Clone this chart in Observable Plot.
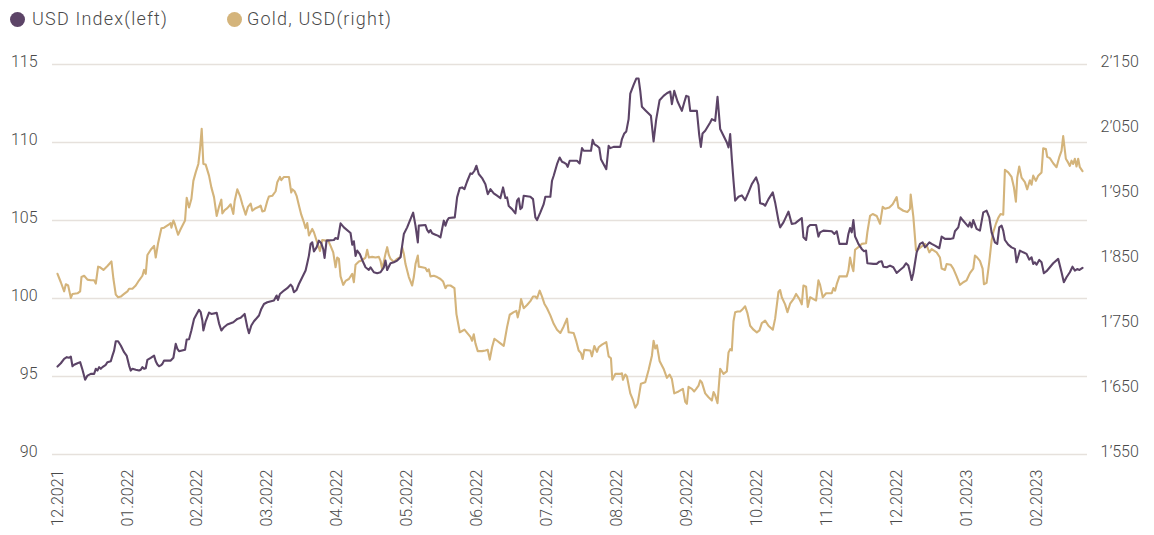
<!DOCTYPE html>
<html>
<head>
<meta charset="utf-8">
<script src="https://cdn.jsdelivr.net/npm/d3@7"></script>
<script src="https://cdn.jsdelivr.net/npm/@observablehq/plot@0.6"></script>
<style>
  body { margin: 0; background: #fff; font-family: Roboto, "Noto Sans", sans-serif; }
  #legend { position: relative; height: 40px; width: 1154px; }
  .dot { position: absolute; top: 12px; width: 15px; height: 15px; border-radius: 50%; }
  .lbl { position: absolute; top: 8px; font-size: 18px; line-height: 22px; color: #4a4a4a; font-weight: 300; letter-spacing: 1.2px; }
  svg text { font-weight: 300; }
</style>
</head>
<body>
<div id="legend">
  <span class="dot" style="left:10px;background:#5c4467"></span>
  <span class="lbl" style="left:32px">USD Index(left)</span>
  <span class="dot" style="left:227px;background:#d4b47b"></span>
  <span class="lbl" style="left:247px">Gold, USD(right)</span>
</div>
<div id="chart"></div>
<script>
// Month labels (one every 21 trading days)
const monthLabels = ["12.2021","01.2022","02.2022","03.2022","04.2022","05.2022","06.2022","07.2022","08.2022","09.2022","10.2022","11.2022","12.2022","01.2023","02.2023"];

// Tick values
const leftTicks = [90, 95, 100, 105, 110, 115];
const rightTicks = [1550, 1650, 1750, 1850, 1950, 2050, 2150];

// USD Index (left axis): trading-day index and value
const usdDay = [0,1,2,2.8,3.5,4,4.5,5,6,6.8,7.5,8.3,9,10,11,11.5,12,12.5,13,13.5,14.5,15,16,16.5,17,17.5,18.2,19,20,20.8,21.5,22,22.5,23.5,24.5,25,25.5,26,26.5,27,28,29,29.5,30,30.5,31,31.5,32,34,34.8,35.5,36,36.5,38.3,38.8,39.5,40.2,41,41.8,42.5,43,43.5,43.8,44.5,45.5,46.2,47.8,48.5,49.2,50,51,52.8,54,55,56.2,57,57.5,58.2,59,60.5,61.2,62,63,65,65.8,66.2,66.8,68,69,70,70.5,71,71.8,72.5,73.5,74.5,75,75.5,76,76.5,77,77.8,78.5,79.2,79.8,80.2,80.8,83,83.5,84.2,85,86,88,88.5,89,89.5,90,90.8,91.5,92.5,93.5,94,95,96,97,98,98.5,99,100,101,102,103,104,105,106,106.8,107.5,108.2,
  108.5,110.5,111,111.5,112,112.5,113.5,114.2,115,115.5,116,116.5,117,117.5,119.3,120,120.8,121.5,122.2,123,124,124.5,125.2,125.8,126.5,127.5,128.5,129.2,130,131,132,133,133.8,134.5,135,135.5,136.5,137.5,138,138.5,139,139.5,140,142,142.8,143.5,144,145,146,146.5,148,148.5,149,150,150.8,151.5,152,152.8,153.2,153.8,156,156.8,157.5,158,160.2,160.7,161.2,162,162.7,163.2,164,164.8,165.5,166,167,169,169.5,170.2,170.8,171.5,172,173,173.8,174.5,175,175.5,176.5,178.2,179,179.8,180.8,182,183,184,184.5,185.2,186.2,187.5,188.2,188.8,189.5,190,192,192.7,193.2,193.7,194.5,196,196.5,197.5,198.2,199,200,201,201.5,202,202.5,203,203.5,204.5,205.5,206.5,207.5,208.5,209,209.8,210.5,211,212,212.5,213.5,214.8,215.5,216.5,217,
  218,219.5,220.5,221.5,222.5,223.5,224,224.8,225.3,226,227.8,228.5,229,230,232.5,233.3,234,234.8,237,237.5,238,238.5,239,239.5,240,240.5,241.5,242.2,242.8,243.2,245,246,246.8,247.5,248,249,250,251,252,253,254,254.8,255.5,256,256.5,257,258,259,259.8,260.5,261,261.8,262.5,263.5,264.8,265.5,266.5,268,269,269.5,270.5,271.2,271.8,272.8,273.5,274,274.5,275,276,277,278,279,279.8,280.5,281.5,282.2,282.8,283.5,284,284.5,285.5,286.5,287.5,288,289,290,291,291.8,292.5,293,293.5,294,294.8,295.5,296.2,297,298,299,300.5,301.5,302.2,303,304,304.8,305.5,306.2,306.9,307.8];
const usdValue = [95.64,95.85,96.13,96.24,96.20,96.28,95.66,95.75,95.85,95.92,95.43,94.79,95.06,95.17,95.17,95.49,95.38,95.60,95.49,95.60,95.75,95.92,95.98,96.34,96.66,97.26,97.26,96.99,96.56,96.32,95.70,95.38,95.49,95.43,95.38,95.43,95.60,95.49,95.53,96.07,96.20,96.34,95.98,95.77,95.66,95.71,95.81,96.02,96.02,96.20,97.09,96.77,96.62,96.71,97.37,97.39,97.95,98.69,99.01,99.27,99.12,98.59,97.95,98.54,99.10,99.01,99.08,98.41,97.95,98.16,98.33,98.48,98.69,98.76,99.01,98.16,97.77,98.27,98.54,98.91,99.33,99.65,99.76,99.87,100.19,99.91,100.29,100.51,100.66,100.89,100.76,100.40,100.55,100.93,101.36,101.79,102.26,102.75,103.49,103.60,103.02,103.28,103.71,103.54,103.17,102.60,103.71,103.75,103.88,103.82,104.82,104.56,104.20,103.45,103.67,102.73,103.07,102.85,102.47,102.00,101.83,102.00,101.68,101.62,101.68,102.00,102.43,101.83,102.26,102.32,102.43,102.64,104.13,104.56,105.09,105.50,104.67,103.60,
  104.67,104.71,104.39,104.24,104.39,104.18,104.09,104.03,103.92,104.45,104.99,104.67,104.99,105.16,105.20,106.48,107.08,107.12,107.01,107.50,108.02,107.98,108.19,108.51,107.98,107.72,107.33,106.69,107.01,106.74,106.59,106.44,107.12,106.44,106.48,105.93,105.73,105.46,106.27,106.42,105.73,105.84,106.59,106.52,106.37,105.20,105.03,105.52,106.05,106.52,106.52,107.55,107.87,108.61,109.04,108.76,108.72,108.61,108.44,108.83,108.83,108.66,109.64,109.47,109.47,110.17,109.90,109.79,109.64,108.93,108.61,108.29,109.79,109.64,109.72,109.72,110.22,110.58,110.71,111.50,113.14,113.69,114.10,114.10,113.31,112.29,112.07,111.71,110.07,111.50,112.71,112.99,113.16,113.27,112.46,113.31,112.63,112.03,112.56,112.99,112.93,112.03,112.03,110.49,109.72,110.58,110.75,111.28,111.50,111.39,112.93,110.86,110.43,110.00,109.68,110.54,108.93,107.55,106.27,106.52,106.61,106.31,106.80,107.33,107.50,107.76,107.29,106.10,106.05,105.95,106.37,106.80,106.16,104.99,104.56,
  104.88,105.57,104.78,104.82,104.99,105.16,103.92,103.75,104.56,104.71,104.71,103.97,104.24,104.35,104.31,104.14,104.31,103.50,103.50,104.14,104.52,104.24,105.03,103.97,103.75,103.50,103.18,103.03,103.07,102.26,102.22,102.22,102.36,102.39,102.04,102.00,102.11,102.00,101.64,101.83,102.00,102.26,102.11,101.68,101.19,101.62,102.96,103.50,103.60,103.28,103.39,103.60,103.50,103.39,103.22,103.97,103.82,103.82,103.86,104.31,104.56,105.20,105.03,104.78,104.61,104.88,104.56,105.03,104.46,104.35,105.52,105.63,105.20,104.24,103.60,103.50,104.56,104.67,104.35,103.75,103.45,103.28,103.18,102.32,103.07,102.96,102.86,102.49,102.64,102.22,102.32,102.17,102.47,102.32,101.62,101.75,102.00,102.26,102.54,101.68,101.04,101.36,101.68,102.04,101.79,101.89,101.83,101.96];

// Gold in USD (right axis): trading-day index and value
const goldDay = [0,1,2,2.5,3.2,4,4.5,6,6.8,7.2,8,9,10,11,11.5,12.2,12.8,13.8,15,16.2,16.8,17.5,18.2,19,20,21,21.5,22.5,23.5,24.5,25.5,26,26.5,27,28,29,29.5,30.2,31.2,32,33.5,34,34.2,34.8,35.2,36.2,37,38.3,38.8,39.5,40.2,40.8,41.5,42.3,42.8,43.3,43.8,44.5,45.5,46.2,47,47.8,48.5,49.2,49.5,50.2,51,52,52.8,53.2,54,54.8,55.5,56.5,57.2,58,58.5,59.5,60.5,61,61.5,62.2,63,63.5,64.5,65.5,66,66.8,67.2,68,69.5,70.2,70.5,71.2,71.8,72.5,73.2,74,74.5,75,75.5,76.5,77,78,78.8,79.5,80.5,81.2,82,82.8,83.5,84,84.5,85,85.8,86.5,87.5,88.5,89,89.5,90.5,91.5,92.5,93,93.5,94.5,95.5,96.5,97,97.5,98,98.5,99,99.5,100,101,102,103,103.5,104,104.5,105.5,106.5,107,107.5,108.2,
  108.5,109.5,110.5,111,111.5,112,113,114,115,115.8,116.5,117,118,119.2,119.8,120.8,121.5,122.2,123,124,124.5,125,125.5,126.2,127.5,128.5,129.2,129.8,130.5,131.2,132,133,134,135,135.8,137,137.8,138.2,138.8,139.2,140,141,142,142.8,143.5,144,144.8,145.5,146.2,147,148,149,150,151,152,153,153.5,155,155.8,156.5,157.2,157.7,158.2,160,160.5,161.2,162,162.5,163.5,164.8,165.5,166.2,166.6,167.5,169,169.5,169.8,170.5,171,172,172.8,173.5,174.2,175.2,176.5,177.5,178.5,179,179.5,180,180.8,182,183,183.8,184.5,185.2,186.5,187.8,188.5,189,189.5,190.5,191.2,191.8,192.5,193,193.5,194.5,195.5,196.5,197,197.5,198.2,199,200,201,201.5,202,202.5,203,203.5,204.2,205,205.8,206.5,207.2,208,209,210,210.8,211.5,212.5,213.5,214.8,215.5,216.5,217,
  217.5,218.5,219.2,220,221,221.8,222.8,223.5,224,224.8,225.3,226,227,227.8,228.5,229,229.8,230.8,232.5,233,233.5,234,234.8,237,237.5,238,238.5,239,239.5,240.5,241.5,242.8,243.2,244,244.8,246,247,247.8,248.5,249.8,250.8,252,252.5,254,255.2,256,256.2,257,257.8,258.5,259.5,260.5,261.2,261.8,262.5,264,265,265.5,266.5,267,268.2,269,270,271,272,273,274,275,275.5,276.2,277,277.8,278.2,279,279.8,280.5,281,281.8,282.5,283.2,284,284.5,285.5,286.5,287.2,287.8,288.2,288.8,289.5,290.5,291.2,292,292.5,293,293.8,294.5,295.5,296,296.8,297.2,298,299,300,300.8,301.5,302,302.8,303.5,304,304.5,305,305.5,306,306.5,307,307.8];
const goldValue = [1828,1815,1801,1812,1810,1791,1797,1798,1801,1823,1825,1819,1818,1818,1813,1839,1838,1834,1840,1847,1820,1796,1792,1793,1797,1801,1805,1805,1810,1818,1825,1834,1828,1857,1865,1871,1853,1875,1898,1899,1904,1906,1899,1910,1905,1888,1897,1910,1945,1930,1943,1971,1984,1997,2020,2051,1997,1996,1979,1961,1946,1917,1931,1942,1921,1926,1929,1935,1920,1940,1958,1948,1935,1919,1931,1936,1925,1929,1931,1933,1924,1925,1940,1947,1948,1955,1969,1977,1972,1977,1977,1953,1958,1955,1948,1933,1919,1907,1898,1906,1887,1897,1892,1876,1863,1880,1879,1880,1871,1861,1838,1853,1851,1824,1811,1817,1820,1828,1815,1842,1847,1849,1853,1865,1853,1854,1853,1854,1848,1835,1847,1859,1869,1857,1851,1846,1851,1854,1869,1859,1843,1823,1810,1823,1843,1856,
  1839,1838,1837,1832,1835,1824,1825,1823,1820,1816,1806,1810,1810,1806,1766,1738,1740,1742,1737,1731,1725,1735,1721,1709,1709,1710,1711,1696,1715,1728,1725,1721,1717,1746,1765,1769,1771,1761,1774,1789,1775,1780,1786,1793,1793,1790,1802,1793,1782,1775,1764,1751,1742,1737,1747,1759,1738,1737,1724,1710,1706,1697,1711,1710,1701,1717,1708,1715,1719,1723,1701,1698,1665,1674,1674,1675,1665,1673,1670,1644,1634,1622,1628,1659,1661,1680,1702,1725,1713,1718,1694,1682,1668,1673,1666,1644,1647,1651,1631,1628,1654,1651,1647,1651,1656,1664,1661,1644,1638,1633,1646,1641,1629,1682,1674,1678,1707,1712,1710,1755,1769,1770,1770,1774,1778,1767,1748,1742,1738,1741,1752,1756,1748,1742,1759,1800,1803,
  1792,1781,1769,1782,1789,1797,1789,1781,1810,1808,1777,1792,1789,1787,1818,1811,1792,1798,1798,1806,1802,1812,1824,1824,1833,1853,1841,1832,1865,1869,1874,1875,1892,1917,1920,1917,1905,1931,1928,1930,1935,1946,1930,1925,1923,1928,1950,1916,1864,1866,1870,1874,1869,1861,1866,1861,1853,1836,1834,1843,1842,1836,1824,1811,1815,1818,1829,1836,1856,1853,1848,1836,1812,1814,1846,1879,1892,1905,1914,1920,1919,1988,1984,1977,1961,1939,1976,1993,1976,1969,1958,1972,1965,1979,1971,1979,1984,2021,2020,2008,2006,1998,1992,2007,2017,2040,2005,1999,1994,2002,1997,2005,1993,2005,1992,1986];

// Map gold (right axis) onto the left-axis scale: 1550 <-> 90, 2150 <-> 115
const toLeft = g => 90 + (g - 1550) / 24;
const fromLeft = v => Math.round(1550 + (v - 90) * 24);
const fmtGold = d3.formatLocale({decimal: ".", thousands: "\u2019", grouping: [3], currency: ["", ""]}).format(",d");

const usdData = usdDay.map((d, i) => ({day: d, value: usdValue[i]}));
const goldData = goldDay.map((d, i) => ({day: d, value: toLeft(goldValue[i])}));
const xTicks = monthLabels.map((_, i) => i * 21);

const PURPLE = "#5c4467";
const GOLD = "#d4b47b";
const GRID = "#e6e1dc";
const TEXT = "#4a4a4a";

const chart = Plot.plot({
  width: 1154,
  height: 495,
  marginTop: 24,
  marginBottom: 81,
  marginLeft: 52,
  marginRight: 67,
  style: {fontFamily: "Roboto, sans-serif", fontSize: "16px", color: TEXT, background: "#fff"},
  x: {type: "linear", domain: [0, 307.8], insetLeft: 5, insetRight: 5},
  y: {domain: [90, 115]},
  marks: [
    Plot.gridY(leftTicks, {stroke: GRID, strokeOpacity: 1, strokeWidth: 1.5}),
    Plot.axisY(leftTicks, {anchor: "left", tickSize: 0, tickPadding: 15, label: null, dy: -3, fill: TEXT}),
    Plot.axisY(rightTicks.map(toLeft), {anchor: "right", tickSize: 0, tickPadding: 13, label: null, dy: -3, fill: TEXT,
      tickFormat: d => fmtGold(fromLeft(d))}),
    Plot.axisX(xTicks, {anchor: "bottom", tickSize: 0, tickPadding: 15, tickRotate: -90, label: null, fill: TEXT,
      tickFormat: d => monthLabels[Math.round(d / 21)]}),
    Plot.line(goldData, {x: "day", y: "value", stroke: GOLD, strokeWidth: 2.1}),
    Plot.line(usdData, {x: "day", y: "value", stroke: PURPLE, strokeWidth: 2.1})
  ]
});
document.getElementById("chart").appendChild(chart);
</script>
</body>
</html>
